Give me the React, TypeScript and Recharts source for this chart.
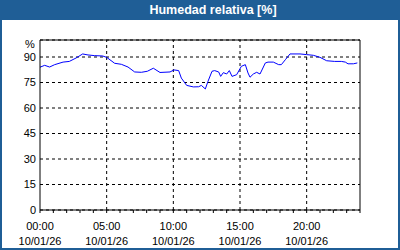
import { LineChart, Line, XAxis, YAxis, CartesianGrid, ReferenceLine } from 'recharts';

const HOURS = [
  0, 0.35, 0.72, 1.1, 1.73, 2.2, 2.7, 3.2, 3.6, 4.1, 4.7, 5.0, 5.6, 6.1, 6.6, 7.1, 7.6, 8.05, 8.5, 9.0,
  9.75, 10.05, 10.4, 10.6, 11.0, 11.5, 11.9, 12.1, 12.4, 12.6, 12.9, 13.1, 13.4, 13.55, 13.75, 14.0,
  14.2, 14.4, 14.75, 15.1, 15.4, 15.6, 15.75, 16.0, 16.25, 16.5, 16.9, 17.1, 17.5, 17.9, 18.1, 18.4,
  18.75, 19.5, 20.0, 20.5, 21.0, 21.5, 22.1, 22.6, 22.9, 23.1, 23.5, 23.8,
];
const HUMIDITY = [
  84, 85.1, 84.1, 85.5, 87, 87.4, 89.4, 91.8, 91.2, 90.8, 90.6, 89.8, 86.3, 85.7, 84.1, 81.2, 81, 81.6, 83.4, 80.9,
  81.2, 82.4, 82, 77.6, 73.3, 72.4, 72.5, 73.3, 71.2, 75.7, 81.6, 82, 81.2, 78.6, 80.8, 80,
  82, 78.6, 79.6, 84.5, 85.5, 80.6, 78.1, 80, 81, 80, 86.5, 87, 87, 85.5, 85.5, 88.4,
  91.8, 91.8, 91.4, 91, 89.8, 87.8, 87.4, 87.4, 87, 86, 86, 86.5,
];
const HOUR_TICKS = Array.from({ length: 25 }, (_, i) => i);
const LABELS: Record<number, string> = { 0: '00:00', 5: '05:00', 10: '10:00', 15: '15:00', 20: '20:00' };
const DATE_LABEL = '10/01/26';
const Y_TICKS = [0, 15, 30, 45, 60, 75, 90];
const MAJOR_HOURS = [5, 10, 15, 20];

const FONT = '"Liberation Sans", Arial, sans-serif';
const HEADER = '#1f5e96';

const data = HOURS.map((h, i) => ({ h, rh: HUMIDITY[i] }));

function HourTick(props: any) {
  const { x, y, payload } = props;
  const label = LABELS[payload.value];
  if (!label) return null;
  return (
    <text x={x} y={y} textAnchor="middle" fontFamily={FONT} fontSize={11} fill="#000">
      <tspan x={x} dy={15}>{label}</tspan>
      <tspan x={x} dy={15}>{DATE_LABEL}</tspan>
    </text>
  );
}

export default function App() {
  return (
    <div style={{ position: 'fixed', top: 0, left: 0, width: 400, height: 250, background: '#fff' }}>
      <LineChart width={400} height={250} data={data} margin={{ top: 40, right: 40, bottom: 0, left: 0 }}>
        <CartesianGrid vertical={false} stroke="#000" strokeDasharray="3 3" />
        {MAJOR_HOURS.map((h) => (
          <ReferenceLine key={h} x={h} stroke="#000" strokeDasharray="3 3" />
        ))}
        <ReferenceLine y={100} stroke="#000" />
        <ReferenceLine x={24} stroke="#000" />
        <XAxis
          type="number"
          dataKey="h"
          domain={[0, 24]}
          ticks={HOUR_TICKS}
          interval={0}
          height={40}
          stroke="#000"
          tickSize={3}
          tick={<HourTick />}
        />
        <YAxis
          type="number"
          domain={[0, 100]}
          ticks={Y_TICKS}
          width={40}
          stroke="#000"
          tickLine={false}
          tickSize={0}
          tickMargin={4}
          tick={{ fill: '#000', fontFamily: FONT, fontSize: 11 }}
        />
        <Line type="linear" dataKey="rh" stroke="#0000ff" strokeWidth={1} dot={false} isAnimationActive={false} />
      </LineChart>
      <div
        style={{
          position: 'absolute', top: 0, left: 0, width: 400, height: 20, background: HEADER,
          color: '#fff', fontFamily: FONT, fontWeight: 'bold', fontSize: 12.5, lineHeight: '20px',
          textAlign: 'center', paddingLeft: 26, boxSizing: 'border-box',
        }}
      >
        Humedad relativa [%]
      </div>
      <div
        style={{
          position: 'absolute', top: 0, left: 0, width: 400, height: 250, boxSizing: 'border-box',
          borderLeft: `2px solid ${HEADER}`, borderRight: `2px solid ${HEADER}`, borderBottom: `2px solid ${HEADER}`,
          pointerEvents: 'none',
        }}
      />
      <div style={{ position: 'absolute', top: 38, left: 25, fontFamily: FONT, fontSize: 11, color: '#000' }}>%</div>
    </div>
  );
}
